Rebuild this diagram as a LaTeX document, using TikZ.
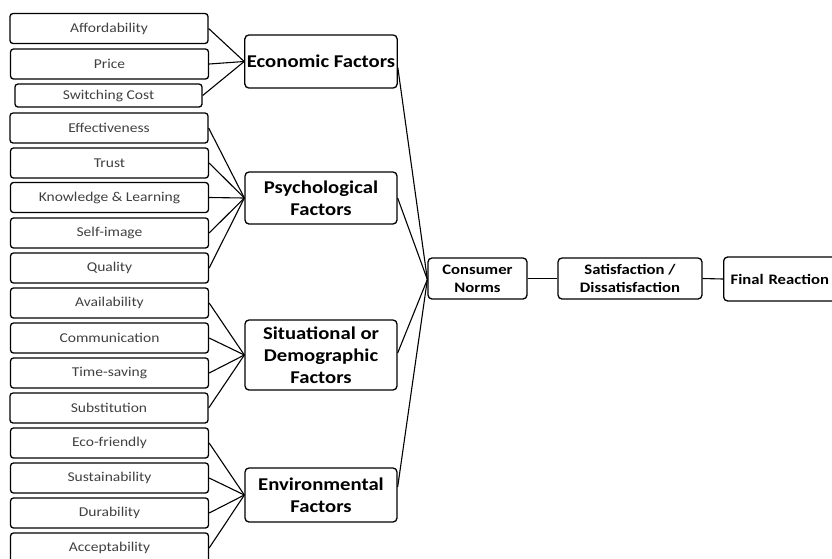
\documentclass[tikz,border=0pt]{standalone}
\usepackage{fontspec}
\setmainfont{Carlito}[FakeStretch=1.15]
\begin{document}
\begin{tikzpicture}[x=1pt,y=-1pt,
  child/.style={draw=black, rounded corners=3pt, line width=1.3pt, minimum width=198pt, minimum height=30pt, inner sep=0pt, font=\fontsize{13.5}{16}\selectfont, text=black!75},
  grp/.style={draw=black, rounded corners=4pt, line width=1.3pt, minimum width=152pt, align=center, inner sep=2pt, font=\bfseries\fontsize{18}{22}\selectfont},
  mid/.style={draw=black, rounded corners=4pt, line width=1.3pt, minimum height=41pt, align=center, inner sep=2pt, font=\bfseries\fontsize{14.5}{18}\selectfont},
  link/.style={line width=1.1pt, black}]
\useasboundingbox (0,0) rectangle (832,558);
\clip (0,0) rectangle (832,558);
% children
\node[child] (c1) at (109,28.5) {Affordability};
\node[child] (c2) at (109.5,64) {Price};
\node[child, minimum width=187pt, minimum height=23pt] (c3) at (108.5,95.5) {Switching Cost};
\node[child] (c4) at (109,128) {Effectiveness};
\node[child] (c5) at (109.5,163) {Trust};
\node[child] (c6) at (109.5,197.5) {Knowledge \& Learning};
\node[child] (c7) at (109.5,233) {Self-image};
\node[child] (c8) at (109.5,268) {Quality};
\node[child] (c9) at (109.5,303) {Availability};
\node[child] (c10) at (109.5,338) {Communication};
\node[child] (c11) at (109.5,373) {Time-saving};
\node[child] (c12) at (109,408) {Substitution};
\node[child] (c13) at (109.5,443) {Eco-friendly};
\node[child] (c14) at (109.5,478) {Sustainability};
\node[child] (c15) at (109.5,513) {Durability};
\node[child] (c16) at (109.5,548) {Acceptability};
% groups
\node[grp, minimum height=53pt] (eco) at (321,61.5) {Economic Factors};
\node[grp, minimum height=52pt] (psy) at (321,198) {Psychological\\Factors};
\node[grp, minimum height=70pt] (sit) at (321,355) {Situational or\\Demographic\\Factors};
\node[grp, minimum height=54pt] (env) at (321,495) {Environmental\\Factors};
% right chain
\node[mid, minimum width=99pt] (cn) at (477.5,278.5) {Consumer\\Norms};
\node[mid, minimum width=144pt] (sat) at (630,278.5) {Satisfaction /\\Dissatisfaction};
\node[mid, anchor=west, minimum width=140pt, minimum height=44pt, text width=126pt, align=left, inner xsep=7pt] (fr) at (723,279) {Final Reaction};
% links
\foreach \c in {c1,c2,c3} \draw[link] (\c.east) -- (eco.west);
\foreach \c in {c4,c5,c6,c7,c8} \draw[link] (\c.east) -- (psy.west);
\foreach \c in {c9,c10,c11,c12} \draw[link] (\c.east) -- (sit.west);
\foreach \c in {c13,c14,c15,c16} \draw[link] (\c.east) -- (env.west);
\draw[link] ([yshift=-6pt]eco.east) -- ([yshift=-1pt]cn.west);
\draw[link] (psy.east) -- ([yshift=-1pt]cn.west);
\draw[link] ([yshift=2pt]sit.east) -- ([yshift=-1pt]cn.west);
\draw[link] ([yshift=8pt]env.east) -- ([yshift=-1pt]cn.west);
\draw[link] (cn.east) -- (sat.west);
\draw[link] (sat.east) -- (fr.west);
\end{tikzpicture}
\end{document}
